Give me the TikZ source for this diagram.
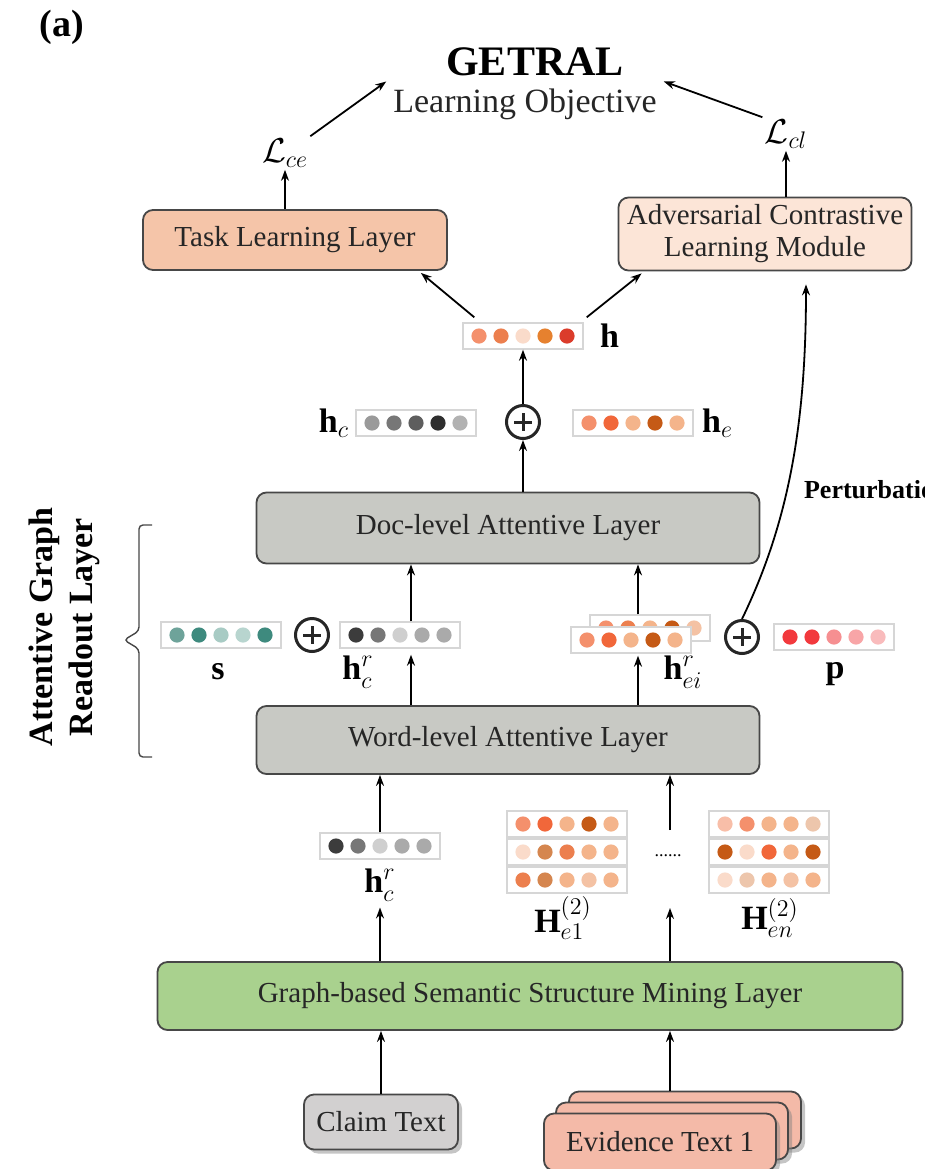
\documentclass[tikz,border=0pt]{standalone}
\usepackage{fontspec}
\setmainfont{Liberation Serif}
\usetikzlibrary{arrows.meta, positioning, calc, shadows}

\definecolor{taskfill}{HTML}{F5C5A9}
\definecolor{advfill}{HTML}{FCE5D7}
\definecolor{docgray}{HTML}{C8C9C4}
\definecolor{graphgreen}{HTML}{A9D18E}
\definecolor{claimgray}{HTML}{D2D0D0}
\definecolor{evfill}{HTML}{F4BAA8}
\definecolor{boxline}{HTML}{474747}
\definecolor{vecline}{HTML}{D6D6D6}
\definecolor{txt}{HTML}{262626}
% dot colours
\definecolor{oSalmon}{HTML}{F4906C}
\definecolor{oBright}{HTML}{F1673A}
\definecolor{oTan}{HTML}{F4B48B}
\definecolor{oRust}{HTML}{C55A16}
\definecolor{oPale}{HTML}{FADBCA}
\definecolor{oAmber}{HTML}{E6812F}
\definecolor{oRed}{HTML}{DB3C2B}
\definecolor{oBrown}{HTML}{D5864F}
\definecolor{oBlush}{HTML}{F8BEA8}
\definecolor{oSand}{HTML}{EDC6AC}
\definecolor{oCoral}{HTML}{EC7F4E}
\definecolor{oPeach}{HTML}{F4C2A4}
\definecolor{gMid}{HTML}{9A9A9A}
\definecolor{gDim}{HTML}{777777}
\definecolor{gDark}{HTML}{5E5E5E}
\definecolor{gBlack}{HTML}{2F2F2F}
\definecolor{gLight}{HTML}{B2B2B2}
\definecolor{gCoal}{HTML}{3C3C3C}
\definecolor{gPale}{HTML}{CFCFCF}
\definecolor{gSoft}{HTML}{AAAAAA}
\definecolor{tMid}{HTML}{6EA39A}
\definecolor{tDeep}{HTML}{3E8A7E}
\definecolor{tPale}{HTML}{A8CBC4}
\definecolor{tMist}{HTML}{B8D5CF}
\definecolor{rHot}{HTML}{F2393D}
\definecolor{rPink}{HTML}{F68F91}
\definecolor{rRose}{HTML}{F8A5A7}
\definecolor{rBlush}{HTML}{F9BBBC}

% embedding vector: name, position, five dot colours
\newcommand{\dotvec}[3]{%
  \node[vecbox] (#1) at (#2) {};
  \foreach \c [count=\i] in {#3}
    \fill[\c] ($(#1.center)+({(\i-3)*22},0)$) circle[radius=3.8pt];
}

\begin{document}
\begin{tikzpicture}[x=0.5pt, y=-0.5pt, >={Stealth[length=5.5pt,width=4pt]},
        layer/.style={draw=boxline, line width=0.9pt, rounded corners=5pt, fill=docgray, text=txt,
            font=\fontsize{14.5}{16}\selectfont, align=center, inner sep=0pt},
        vecbox/.style={draw=vecline, fill=white, line width=0.7pt, minimum width=60pt, minimum height=13pt, inner sep=0pt},
        sumop/.style={circle, draw=black!85, line width=1.5pt, fill=white, minimum size=16.5pt, inner sep=0pt,
            path picture={\draw[line width=1.5pt, black!85]
                ($(path picture bounding box.center)+(-9,0)$) -- ($(path picture bounding box.center)+(9,0)$)
                ($(path picture bounding box.center)+(0,-9)$) -- ($(path picture bounding box.center)+(0,9)$);}},
        lbl/.style={font=\fontsize{17}{20}\selectfont, inner sep=1pt},
        flow/.style={->, line width=0.9pt}]
    \fill[white] (0,0) rectangle (925,1169);
    \useasboundingbox (0,0) rectangle (925,1169);

    % titles and objective
    \node[font=\bfseries\fontsize{19}{22}\selectfont] (tag) at (62,27) {(a)};
    \node[font=\bfseries\fontsize{21}{24}\selectfont] (title) at (535,62) {GETRAL};
    \node[font=\fontsize{17}{20}\selectfont, text=txt] (obj) at (525,104) {Learning Objective};
    \node[lbl] (lce) at (285,153) {$\mathcal{L}_{ce}$};
    \node[lbl] (lcl) at (786,134) {$\mathcal{L}_{cl}$};

    % upper modules
    \node[layer, fill=taskfill, minimum width=152pt, minimum height=30pt] (task) at (295,240) {Task Learning Layer};
    \node[layer, fill=advfill, minimum width=146.5pt, minimum height=36.5pt] (adv) at (765,234)
        {Adversarial Contrastive\\Learning Module};

    % fused representation
    \dotvec{hvec}{523,336}{oSalmon,oCoral,oPale,oAmber,oRed}
    \node[lbl, right=7pt of hvec] (hlbl) {$\mathbf{h}$};
    \node[sumop] (sum1) at (523,422) {};
    \dotvec{hc}{416,423}{gMid,gDim,gDark,gBlack,gLight}
    \node[lbl, left=2pt of hc] (hclbl) {$\mathbf{h}_c$};
    \dotvec{he}{633,423}{oSalmon,oBright,oTan,oRust,oTan}
    \node[lbl, right=3pt of he] (helbl) {$\mathbf{h}_e$};

    % readout layer
    \node[layer, minimum width=251.5pt, minimum height=35.5pt] (doc) at (508,528) {Doc-level Attentive Layer};
    \dotvec{svec}{221,635}{tMid,tDeep,tPale,tMist,tDeep}
    \node[lbl] (slbl) at (218,672) {$\mathbf{s}$};
    \node[sumop] (sum2) at (312,635) {};
    \dotvec{hcr}{400,635}{gCoal,gDim,gPale,gSoft,gSoft}
    \node[lbl] (hcrlbl) at (358,672) {$\mathbf{h}^r_c$};
    \dotvec{heib}{650,628}{oSalmon,oCoral,oTan,oRust,oPeach}
    \dotvec{heif}{631,640}{oSalmon,oBright,oTan,oRust,oTan}
    \node[lbl] (heilbl) at (683,672) {$\mathbf{h}^r_{ei}$};
    \node[sumop] (sum3) at (742,637) {};
    \dotvec{pvec}{834,637}{rHot,rHot,rPink,rRose,rBlush}
    \node[lbl] (plbl) at (835,674) {$\mathbf{p}$};
    \node[layer, minimum width=251.5pt, minimum height=34pt] (word) at (508,740) {Word-level Attentive Layer};
    \node[rotate=90, align=center, font=\bfseries\fontsize{17}{20}\selectfont] (readout) at (64,627)
        {Attentive Graph\\Readout Layer};
    \draw[boxline, line width=0.7pt, rounded corners=2pt] (152,525) -- (139,525) -- (139,631) -- (124,640)
        -- (139,649) -- (139,757) -- (152,757);
    \node[anchor=west, font=\bfseries\fontsize{13}{15}\selectfont] (pert) at (797,490) {Perturbation};

    % node embeddings
    \dotvec{hcrb}{380,846}{gCoal,gDim,gPale,gSoft,gSoft}
    \node[lbl] (hcrblbl) at (380,885) {$\mathbf{h}^r_c$};
    \dotvec{hea}{567,824}{oSalmon,oBright,oTan,oRust,oTan}
    \dotvec{heb}{567,852}{oPale,oBrown,oCoral,oTan,oTan}
    \dotvec{hec}{567,880}{oCoral,oBrown,oTan,oPeach,oTan}
    \node[lbl] (he1lbl) at (563,918) {$\mathbf{H}^{(2)}_{e1}$};
    \node[font=\small] (dots) at (668,856) {......};
    \dotvec{hna}{769,824}{oBlush,oSalmon,oTan,oTan,oSand}
    \dotvec{hnb}{769,852}{oRust,oPale,oBright,oTan,oRust}
    \dotvec{hnc}{769,880}{oPale,oSand,oTan,oPeach,oTan}
    \node[lbl] (henlbl) at (770,918) {$\mathbf{H}^{(2)}_{en}$};

    % graph layer and inputs
    \node[layer, fill=graphgreen, minimum width=372.5pt, minimum height=34pt] (graph) at (530,996)
        {Graph-based Semantic Structure Mining Layer};
    \node[layer, fill=claimgray, minimum width=77pt, minimum height=27.5pt,
        drop shadow={shadow xshift=2pt, shadow yshift=-2pt, opacity=0.45}] (claim) at (381,1122) {Claim Text};
    \node[layer, fill=evfill, minimum width=116pt, minimum height=28.5pt,
        drop shadow={shadow xshift=2pt, shadow yshift=-2pt, opacity=0.45}] (ev3) at (685,1120) {};
    \node[layer, fill=evfill, minimum width=116pt, minimum height=28.5pt,
        drop shadow={shadow xshift=2pt, shadow yshift=-2pt, opacity=0.45}] (ev2) at (672,1131) {};
    \node[layer, fill=evfill, minimum width=116pt, minimum height=28.5pt,
        drop shadow={shadow xshift=2pt, shadow yshift=-2pt, opacity=0.45}] (ev1) at (660,1142) {Evidence Text 1};

    % connectors
    \coordinate (colL) at (411,0);
    \coordinate (colR) at (638,0);
    \coordinate (colE) at (670,0);
    \draw[flow] (task.north -| lce) -- (lce);
    \draw[flow] (adv.north -| lcl) -- (lcl);
    \draw[flow] (lce.north east) -- (obj.north west);
    \draw[flow] (lcl.north west) -- (obj.north east);
    \draw[flow] ($(hvec.north west)+(12,-5)$) -- ($(task.south east)+(-27,2)$);
    \draw[flow] ($(hvec.north east)+(3,-5)$) -- ($(adv.south west)+(24,2)$);
    \draw[flow] (sum1) -- (hvec);
    \draw[flow] (doc.north -| sum1) -- (sum1);
    \draw[flow] (word.north -| colL) -- ($(hcr.south -| colL)+(0,6)$);
    \draw[flow] (hcr.north -| colL) -- (doc.south -| colL);
    \draw[flow] (word.north -| colR) -- ($(heif.south -| colR)+(0,2)$);
    \draw[flow] (heib.north -| colR) -- (doc.south -| colR);
    \draw[flow] (sum3.north) .. controls (790,520) and (806,420) .. ($(adv.south)+(41,13)$);
    \draw[flow] (hcrb.north) -- (word.south -| hcrb);
    \draw[flow] (graph.north -| hcrb) -- ($(hcrblbl.south)+(0,4)$);
    \draw[flow] ($(dots.center -| colE)+(0,-26)$) -- (word.south -| colE);
    \draw[flow] (graph.north -| colE) -- ($(dots.center -| colE)+(0,52)$);
    \draw[flow] (claim.north) -- (graph.south -| claim);
    \draw[flow] (ev3.north -| colE) -- (graph.south -| colE);
\end{tikzpicture}
\end{document}
